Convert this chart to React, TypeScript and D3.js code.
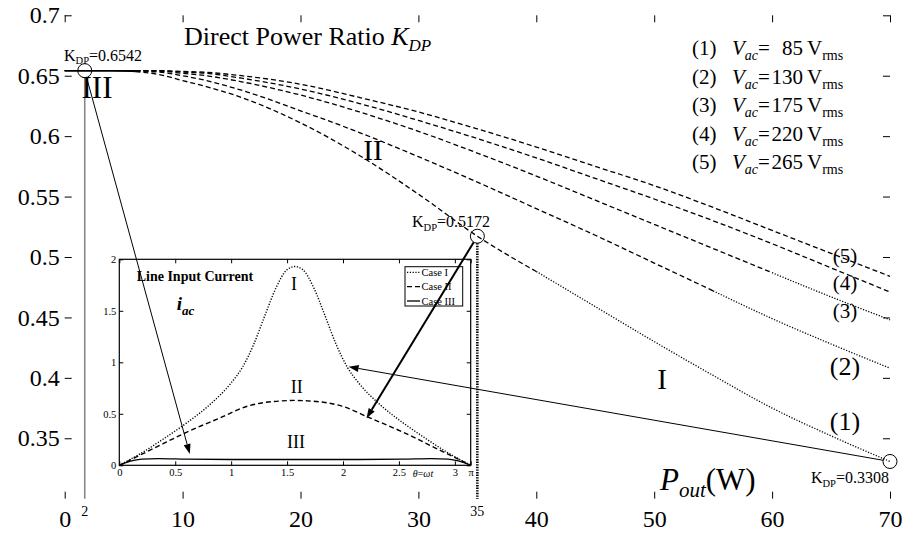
import * as d3 from 'd3';
import React, { useEffect, useRef } from 'react';

const WIDTH = 907;
const HEIGHT = 535;
const FONT = '"Liberation Serif", "Times New Roman", Times, serif';

// Direct power ratio K_DP against output power, one curve per line voltage
const pOut = [0, 2, 4, 6, 8, 10, 12, 15, 20, 25, 30, 35, 40, 45, 50, 55, 60, 65, 70];
const kdp85 = [0.6542, 0.6542, 0.6542, 0.6535, 0.651, 0.646, 0.641, 0.632, 0.611, 0.584, 0.552, 0.5172, 0.488, 0.459, 0.43, 0.402, 0.375, 0.352, 0.3308];
const kdp130 = [0.6542, 0.6542, 0.6542, 0.654, 0.653, 0.65, 0.646, 0.638, 0.621, 0.603, 0.583, 0.562, 0.54, 0.518, 0.495, 0.472, 0.449, 0.428, 0.408];
const kdp175 = [0.6542, 0.6542, 0.6542, 0.6542, 0.6538, 0.652, 0.65, 0.645, 0.634, 0.62, 0.604, 0.586, 0.567, 0.547, 0.527, 0.507, 0.487, 0.467, 0.448];
const kdp220 = [0.6542, 0.6542, 0.6542, 0.6542, 0.6542, 0.653, 0.652, 0.648, 0.639, 0.627, 0.613, 0.598, 0.582, 0.565, 0.548, 0.53, 0.511, 0.491, 0.471];
const kdp265 = [0.6542, 0.6542, 0.6542, 0.6542, 0.6542, 0.6535, 0.6528, 0.65, 0.643, 0.632, 0.62, 0.606, 0.591, 0.575, 0.559, 0.541, 0.522, 0.503, 0.484];
const vacValues = ['85', '130', '175', '220', '265'];
// output power where each curve leaves case III, and where it enters case I
const caseIIFrom = [6, 6, 6, 6, 6];
const caseIFrom = [40, 55, 60, null, null];

const xTicks = [0, 10, 20, 30, 40, 50, 60, 70];
const yTicks = [0.35, 0.4, 0.45, 0.5, 0.55, 0.6, 0.65, 0.7];

// marked operating points at 85 Vrms and where their arrows land in the inset
const markP = [1.7, 35, 70];
const markK = [0.6542, 0.5172, 0.3308];
const markPLabel = ['2', '35', ''];
const arrowTheta = [0.63, 2.21, 2.05];
const arrowCurrent = [0.11, 0.456, 0.957];

// inset: line input current waveforms over half a line period
const thetaI = [0, 0.2, 0.4, 0.6, 0.8, 1.0, 1.1, 1.2, 1.3, 1.4, 1.5, 1.571, 1.64, 1.74, 1.84, 1.94, 2.04, 2.14, 2.34, 2.54, 2.74, 2.94, 3.1416];
const currentI = [0, 0.12, 0.26, 0.41, 0.58, 0.8, 0.95, 1.17, 1.45, 1.72, 1.9, 1.93, 1.9, 1.72, 1.45, 1.17, 0.95, 0.8, 0.58, 0.41, 0.26, 0.12, 0];
const thetaII = [0, 0.3, 0.6, 0.9, 1.15, 1.3, 1.45, 1.571, 1.69, 1.84, 1.99, 2.24, 2.54, 2.84, 3.1416];
const currentII = [0, 0.16, 0.32, 0.46, 0.575, 0.61, 0.625, 0.63, 0.625, 0.61, 0.575, 0.46, 0.32, 0.16, 0];
const thetaIII = [0, 0.1, 0.2, 0.35, 0.6, 1.0, 1.571, 2.14, 2.54, 2.79, 2.94, 3.04, 3.1416];
const currentIII = [0, 0.04, 0.06, 0.065, 0.06, 0.057, 0.057, 0.057, 0.06, 0.065, 0.06, 0.04, 0];
const insetXTicks = [0, 0.5, 1, 1.5, 2, 2.5, 3, Math.PI];
const insetYTicks = [0, 0.5, 1, 1.5, 2];
const caseNames = ['Case I', 'Case II', 'Case III'];

const DASHED = '5,3';
const DOTTED = '1.2,1.6';

type Run = { t: string; size: number; italic?: boolean; bold?: boolean; off?: number };

function rich(parent: any, x: number, y: number, runs: Run[], anchor = 'start') {
  const text = parent
    .append('text')
    .attr('x', x)
    .attr('y', y)
    .attr('text-anchor', anchor)
    .style('font-family', FONT)
    .attr('fill', '#000');
  let shift = 0;
  runs.forEach(r => {
    const off = r.off || 0;
    text
      .append('tspan')
      .attr('dy', off - shift)
      .style('font-size', `${r.size}px`)
      .style('font-style', r.italic ? 'italic' : 'normal')
      .style('font-weight', r.bold ? 'bold' : 'normal')
      .text(r.t);
    shift = off;
  });
  return text;
}

function arrow(g: any, x1: number, y1: number, x2: number, y2: number, width: number, startGap: number) {
  const len = Math.hypot(x2 - x1, y2 - y1);
  const ux = (x2 - x1) / len;
  const uy = (y2 - y1) / len;
  const head = 10;
  const half = 3.5;
  const bx = x2 - ux * head;
  const by = y2 - uy * head;
  g.append('line')
    .attr('x1', x1 + ux * startGap)
    .attr('y1', y1 + uy * startGap)
    .attr('x2', bx)
    .attr('y2', by)
    .attr('stroke', '#000')
    .attr('stroke-width', width);
  g.append('path')
    .attr('d', `M${x2},${y2}L${bx - uy * half},${by + ux * half}L${bx + uy * half},${by - ux * half}Z`)
    .attr('fill', '#000');
}

export default function App() {
  const svgRef = useRef<SVGSVGElement>(null);

  useEffect(() => {
    if (!svgRef.current) return;
    const svg = d3.select(svgRef.current);
    svg.selectAll('*').remove();

    const left = 64.7, right = 890, top = 15.3, bottom = 498.7;
    const x = d3.scaleLinear().domain([0, 70]).range([left, right]);
    const y = d3.scaleLinear().domain([0.3, 0.7]).range([bottom, top]);

    svg.append('rect').attr('width', WIDTH).attr('height', HEIGHT).attr('fill', '#fff');

    // axes with inward ticks on all four sides
    const styleAxis = (g: any, size: number) => {
      g.select('.domain').remove();
      g.attr('font-family', null).attr('font-size', null);
      g.selectAll('text')
        .style('font-family', FONT)
        .style('font-size', `${size}px`)
        .attr('fill', '#000');
      g.selectAll('line').attr('stroke', '#000').attr('stroke-width', 1);
    };
    svg.append('g')
      .attr('transform', `translate(0,${bottom})`)
      .call(d3.axisBottom(x).tickValues(xTicks).tickSize(-7).tickPadding(11).tickFormat(d3.format('d')))
      .call((g: any) => styleAxis(g, 24));
    svg.append('g')
      .attr('transform', `translate(0,${top})`)
      .call(d3.axisTop(x).tickValues(xTicks).tickSize(-7).tickFormat(() => ''))
      .call((g: any) => styleAxis(g, 24));
    svg.append('g')
      .attr('transform', `translate(${left},0)`)
      .call(d3.axisLeft(y).tickValues(yTicks).tickSize(-7).tickPadding(5).tickFormat(d3.format('')))
      .call((g: any) => styleAxis(g, 24));
    svg.append('g')
      .attr('transform', `translate(${right},0)`)
      .call(d3.axisRight(y).tickValues(yTicks).tickSize(-7).tickFormat(() => ''))
      .call((g: any) => styleAxis(g, 24));

    // curves, split by operating case: III solid, II dashed, I dotted
    const curves = [kdp85, kdp130, kdp175, kdp220, kdp265];
    const line = d3.line<[number, number]>()
      .x(d => x(d[0]))
      .y(d => y(d[1]))
      .curve(d3.curveMonotoneX);
    curves.forEach((vals, i) => {
      const pts: [number, number][] = pOut.map((p, j) => [p, vals[j]]);
      const b2 = caseIIFrom[i];
      const b1 = caseIFrom[i] ?? Infinity;
      const segs = [
        { pts: pts.filter(d => d[0] <= b2), dash: null },
        { pts: pts.filter(d => d[0] >= b2 && d[0] <= b1), dash: DASHED },
        { pts: pts.filter(d => d[0] >= b1), dash: DOTTED },
      ];
      segs.forEach(s => {
        if (s.pts.length < 2) return;
        svg.append('path')
          .attr('d', line(s.pts))
          .attr('fill', 'none')
          .attr('stroke', '#000')
          .attr('stroke-width', 1.3)
          .attr('stroke-dasharray', s.dash);
      });
    });

    // marker lines down to the power axis
    svg.append('line')
      .attr('x1', x(markP[0])).attr('x2', x(markP[0]))
      .attr('y1', y(markK[0]) + 7).attr('y2', bottom)
      .attr('stroke', '#888').attr('stroke-width', 1.6);
    svg.append('line')
      .attr('x1', x(markP[1])).attr('x2', x(markP[1]))
      .attr('y1', y(markK[1]) + 7).attr('y2', bottom)
      .attr('stroke', '#000').attr('stroke-width', 2.6).attr('stroke-dasharray', '1.4,1.2');
    markPLabel.forEach((lab, i) => {
      if (!lab) return;
      rich(svg, x(markP[i]), 516, [{ t: lab, size: 14 }], 'middle');
    });
    markP.forEach((p, i) => {
      svg.append('circle')
        .attr('cx', x(p)).attr('cy', y(markK[i])).attr('r', 7)
        .attr('fill', 'none').attr('stroke', '#000').attr('stroke-width', 1);
    });

    // annotations
    rich(svg, 184, 45, [
      { t: 'Direct Power Ratio ', size: 26 },
      { t: 'K', size: 26, italic: true },
      { t: 'DP', size: 17, italic: true, off: 6 },
    ]);
    const kdpRuns = (v: number): Run[] => [
      { t: 'K', size: 16 },
      { t: 'DP', size: 10.5, off: 3.5 },
      { t: '=' + v.toFixed(4), size: 16 },
    ];
    rich(svg, 64, 60.5, kdpRuns(markK[0]));
    rich(svg, 412, 227, kdpRuns(markK[1]));
    rich(svg, 889, 483, kdpRuns(markK[2]), 'end');

    rich(svg, 97, 98, [{ t: 'III', size: 31 }], 'middle');
    rich(svg, 373, 160, [{ t: 'II', size: 29 }], 'middle');
    rich(svg, 662, 389, [{ t: 'I', size: 29 }], 'middle');
    rich(svg, 660, 490, [
      { t: 'P', size: 31, italic: true },
      { t: 'out', size: 21, italic: true, off: 7 },
      { t: '(W)', size: 31 },
    ]);

    // curve numbers at the right
    const numY = [429.5, 374.5, 318, 290, 263];
    const numSize = [26, 26, 21, 21, 21];
    numY.forEach((yy, i) => {
      rich(svg, 845, yy, [{ t: `(${i + 1})`, size: numSize[i] }], 'middle');
    });

    // voltage legend
    vacValues.forEach((v, i) => {
      const by = 55 + i * 28.5;
      rich(svg, 692, by, [{ t: `(${i + 1})`, size: 21 }]);
      rich(svg, 732, by, [
        { t: 'V', size: 21, italic: true },
        { t: 'ac', size: 14, italic: true, off: 5 },
        { t: '=', size: 21 },
      ]);
      rich(svg, 803, by, [{ t: v, size: 21 }], 'end');
      rich(svg, 807, by, [
        { t: 'V', size: 21 },
        { t: 'rms', size: 14, off: 5 },
      ]);
    });

    // inset: line input current
    const il = 119.3, ir = 470.7, it = 259.3, ib = 465.3;
    const ix = d3.scaleLinear().domain([0, Math.PI]).range([il, ir]);
    const iy = d3.scaleLinear().domain([0, 2]).range([ib, it]);
    const inset = svg.append('g');
    inset.append('rect')
      .attr('x', il).attr('y', it).attr('width', ir - il).attr('height', ib - it)
      .attr('fill', '#fff').attr('stroke', 'none');
    inset.append('g')
      .attr('transform', `translate(0,${ib})`)
      .call(d3.axisBottom(ix).tickValues(insetXTicks).tickSize(-4).tickPadding(3)
        .tickFormat((d: any) => (d === Math.PI ? 'π' : String(d))))
      .call((g: any) => styleAxis(g, 10.5));
    inset.append('g')
      .attr('transform', `translate(0,${it})`)
      .call(d3.axisTop(ix).tickValues(insetXTicks).tickSize(-4).tickFormat(() => ''))
      .call((g: any) => styleAxis(g, 10.5));
    inset.append('g')
      .attr('transform', `translate(${il},0)`)
      .call(d3.axisLeft(iy).tickValues(insetYTicks).tickSize(-4).tickPadding(3).tickFormat((d: any) => String(d)))
      .call((g: any) => styleAxis(g, 10.5));
    inset.append('g')
      .attr('transform', `translate(${ir},0)`)
      .call(d3.axisRight(iy).tickValues(insetYTicks).tickSize(-4).tickFormat(() => ''))
      .call((g: any) => styleAxis(g, 10.5));
    inset.append('rect')
      .attr('x', il).attr('y', it).attr('width', ir - il).attr('height', ib - it)
      .attr('fill', 'none').attr('stroke', '#000').attr('stroke-width', 1.2);
    rich(inset, 423, 477, [
      { t: 'θ', size: 10, italic: true },
      { t: '=', size: 10 },
      { t: 'ωt', size: 10, italic: true },
    ], 'middle');

    const iline = d3.line<[number, number]>()
      .x(d => ix(d[0]))
      .y(d => iy(d[1]))
      .curve(d3.curveMonotoneX);
    const waves = [
      { th: thetaI, cur: currentI, dash: DOTTED, w: 1.4 },
      { th: thetaII, cur: currentII, dash: DASHED, w: 1.4 },
      { th: thetaIII, cur: currentIII, dash: null, w: 1.4 },
    ];
    waves.forEach(wv => {
      inset.append('path')
        .attr('d', iline(wv.th.map((t, j) => [t, wv.cur[j]] as [number, number])))
        .attr('fill', 'none').attr('stroke', '#000')
        .attr('stroke-width', wv.w).attr('stroke-dasharray', wv.dash);
    });

    rich(inset, 136.7, 281, [{ t: 'Line Input Current', size: 14, bold: true }]);
    rich(inset, 176.7, 310, [
      { t: 'i', size: 19, bold: true, italic: true },
      { t: 'ac', size: 13, bold: true, italic: true, off: 5 },
    ]);
    rich(inset, 294, 290, [{ t: 'I', size: 18 }], 'middle');
    rich(inset, 296.7, 393, [{ t: 'II', size: 18 }], 'middle');
    rich(inset, 296, 448, [{ t: 'III', size: 18 }], 'middle');

    // inset legend
    inset.append('rect')
      .attr('x', 405).attr('y', 266.7).attr('width', 57.7).attr('height', 39.3)
      .attr('fill', '#fff').attr('stroke', '#000').attr('stroke-width', 1);
    caseNames.forEach((name, i) => {
      const cy = 272.3 + i * 14.35;
      inset.append('line')
        .attr('x1', 407).attr('x2', 420).attr('y1', cy).attr('y2', cy)
        .attr('stroke', '#000').attr('stroke-width', 1.3)
        .attr('stroke-dasharray', waves[i].dash);
      rich(inset, 421.5, cy + 3.6, [{ t: name, size: 10.5 }]);
    });

    // arrows from operating points to the waveforms
    const widths = [1, 2, 1];
    markP.forEach((p, i) => {
      arrow(svg, x(p), y(markK[i]), ix(arrowTheta[i]), iy(arrowCurrent[i]), widths[i], 7);
    });
  }, []);

  return (
    <svg
      ref={svgRef}
      width={WIDTH}
      height={HEIGHT}
      style={{ position: 'absolute', left: 0, top: 0, display: 'block' }}
    />
  );
}
